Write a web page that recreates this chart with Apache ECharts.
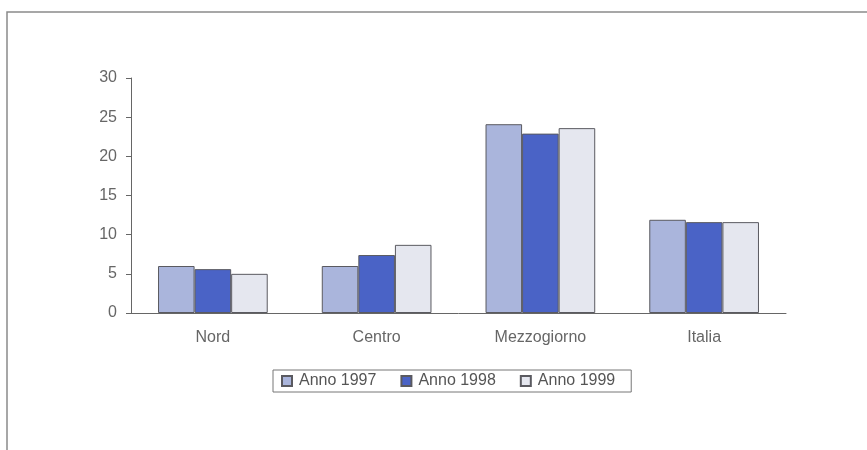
<!DOCTYPE html>
<html>
<head>
<meta charset="utf-8">
<script src="https://cdn.jsdelivr.net/npm/echarts@6/dist/echarts.min.js"></script>
<style>
  html, body { margin: 0; padding: 0; background: #fff; }
  #chart { width: 867px; height: 450px; }
</style>
</head>
<body>
<div id="chart"></div>
<script>
// data
var categories = ["Nord", "Centro", "Mezzogiorno", "Italia"];
var anno1997 = [6.0, 6.0, 24.1, 11.9];
var anno1998 = [5.6, 7.4, 22.9, 11.6];
var anno1999 = [5.0, 8.7, 23.6, 11.6];
var yTicks = [0, 5, 10, 15, 20, 25, 30];

var chart = echarts.init(document.getElementById("chart"));

function bar(name, data, color) {
  return {
    name: name,
    type: "bar",
    data: data,
    barGap: "0%",
    barCategoryGap: "33%",
    itemStyle: { color: color, borderColor: "#5a5a60", borderWidth: 1 },
  };
}

var option = {
  backgroundColor: "#fff",
  textStyle: { fontFamily: "Liberation Sans, Arial, sans-serif" },
  animation: false,
  graphic: [
    {
      // frame around the figure
      type: "rect",
      shape: { x: 7, y: 12, width: 880, height: 460 },
      style: { fill: "none", stroke: "#8a8a8a", lineWidth: 1.5 },
    },
  ],
  grid: { left: 131, right: 81, top: 78, bottom: 137 },
  legend: {
    top: 370,
    left: 273,
    icon: "rect",
    itemWidth: 10,
    itemHeight: 10,
    itemGap: 24,
    borderColor: "#777",
    borderWidth: 1,
    padding: [3, 16, 3, 8],
    textStyle: { color: "#555", fontSize: 16, padding: [0, 0, 0, 2] },
    data: ["Anno 1997", "Anno 1998", "Anno 1999"],
  },
  xAxis: {
    type: "category",
    data: categories,
    axisLine: { lineStyle: { color: "#666" } },
    axisTick: { show: false },
    axisLabel: { color: "#666", fontSize: 16, margin: 17 },
  },
  yAxis: {
    type: "value",
    min: yTicks[0],
    max: yTicks[yTicks.length - 1],
    interval: 5,
    splitLine: { show: false },
    axisLine: { show: true, lineStyle: { color: "#666" } },
    axisTick: { show: true, length: 5, lineStyle: { color: "#666" } },
    axisLabel: { color: "#666", fontSize: 16, margin: 14 },
  },
  series: [
    bar("Anno 1997", anno1997, "#aab5dc"),
    bar("Anno 1998", anno1998, "#4a63c6"),
    bar("Anno 1999", anno1999, "#e5e7ef"),
  ],
};

chart.setOption(option);
</script>
</body>
</html>
